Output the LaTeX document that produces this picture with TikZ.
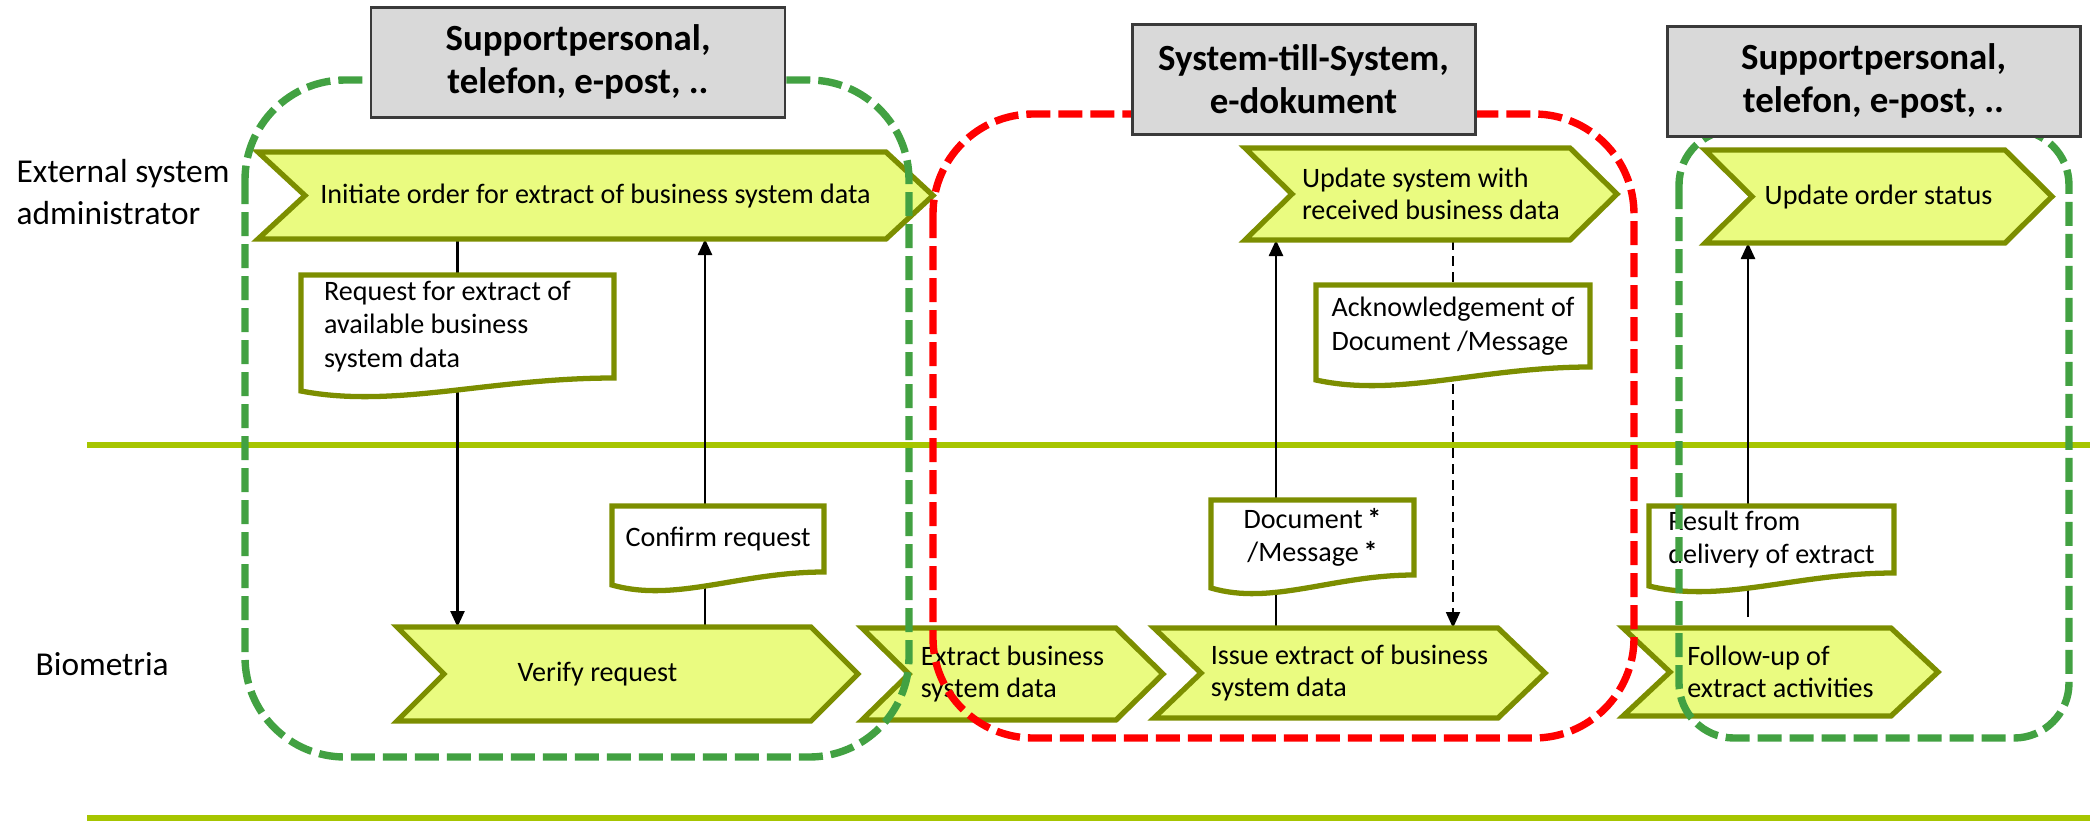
\documentclass[tikz,border=0pt]{standalone}
\usepackage{fontspec}
\setmainfont{Carlito}
\usetikzlibrary{arrows.meta, positioning, calc}
\definecolor{chevfill}{HTML}{EAFB80}
\definecolor{oliveedge}{HTML}{7C8E00}
\definecolor{zonegreen}{HTML}{42A142}
\definecolor{zonered}{HTML}{FF0000}
\definecolor{hdrfill}{HTML}{D9D9D9}
\definecolor{hdrline}{HTML}{3A3A3A}
\definecolor{lanegreen}{HTML}{A6C500}
\pgfdeclarelayer{bglayer}
\pgfdeclarelayer{shapelayer}
\pgfdeclarelayer{fglayer}
\pgfdeclarelayer{toplayer}
\pgfsetlayers{bglayer,shapelayer,main,fglayer,toplayer}
\tikzset{
  chev/.style={rectangle, draw=none, inner sep=0pt, outer sep=0pt, align=left,
               font=\fontsize{8}{9.2}\selectfont},
  docbox/.style={rectangle, draw=none, inner sep=0pt, outer sep=0pt, align=left,
                 font=\fontsize{8}{9.5}\selectfont},
  chevline/.style={draw=oliveedge, fill=chevfill, line width=1.5pt},
  docline/.style={draw=oliveedge, fill=white, line width=1.5pt},
  hdr/.style={rectangle, draw=hdrline, fill=hdrfill, line width=0.85pt, inner sep=0pt,
              align=center, font=\fontsize{10.5}{12.2}\selectfont\bfseries},
  lanelbl/.style={anchor=west, align=left, inner sep=0pt, font=\fontsize{9.5}{12}\selectfont},
  lane/.style={draw=lanegreen, line width=1.7pt},
  flow/.style={-{Triangle[length=1.6mm, width=1.4mm]}, line width=0.7pt},
  ackflow/.style={flow, line width=0.5pt, dash pattern=on 1mm off 0.6mm},
  zone/.style={draw=#1, line width=2.1pt, dash pattern=on 2.4mm off 0.8mm,
               rounded corners=10mm},
  zone/.default=zonegreen,
}
\newcommand\chevtip{4.7mm}
% chevron outline round a named node
\newcommand\chevshape[1]{%
  \filldraw[chevline] (#1.north west) -- ([xshift=-\chevtip]#1.north east) -- (#1.east)
    -- ([xshift=-\chevtip]#1.south east) -- (#1.south west) -- ([xshift=\chevtip]#1.west) -- cycle;}
% document outline (wavy bottom) round a named node
\newcommand\docshape[1]{%
  \filldraw[docline] ([yshift=-1.3mm]#1.south west) -- (#1.north west) -- (#1.north east)
    -- (#1.south east)
    .. controls ($(#1.south east)!0.4!(#1.south west)$)
       and ($(#1.south west)!0.3!(#1.south east)+(0,-3.1mm)$)
    .. ([yshift=-1.3mm]#1.south west) -- cycle;}

\begin{document}
\begin{tikzpicture}[x=0.1mm, y=-0.1mm]
  \useasboundingbox (0,0) rectangle (2090,821);

  % Lane labels
  \node[lanelbl] (ext) at (16,192) {External system\\administrator};
  \node[lanelbl] (bio) at (35,664) {Biometria};

  % Activities — external system administrator
  \node[chev, minimum width=67.5mm, minimum height=8.7mm] (init) at (595.5,195.5)
    {Initiate order for extract of business system data};
  \node[chev, minimum width=37.2mm, minimum height=9.2mm] (updsys) at (1431,194)
    {Update system with\\received business data};
  \node[chev, minimum width=34.7mm, minimum height=9.3mm] (updstat) at (1878.5,196.5)
    {Update order status};

  % Activities — Biometria
  \node[chev, minimum width=46.1mm, minimum height=9.4mm] (verify) at (627.5,674)
    {Verify request\hspace*{6mm}};
  \node[chev, minimum width=30.1mm, minimum height=9.2mm] (extract) at (1012.5,674)
    {Extract business\\system data};
  \node[chev, minimum width=39.1mm, minimum height=9mm] (issue) at (1349.5,673)
    {Issue extract of business\\system data};
  \node[chev, minimum width=31.5mm, minimum height=8.8mm] (follow) at (1780.5,672)
    {Follow-up of\\extract activities};

  % Messages
  \node[docbox, align=flush left, text width=26.7mm, minimum width=31.3mm, minimum height=10.3mm]
    (reqdoc) at (457.5,326.5) {Request for extract of\\available business\\system data};
  \node[docbox, minimum width=21.2mm, minimum height=6.6mm] (confdoc) at (718,539)
    {Confirm request};
  \node[docbox, minimum width=27.4mm, minimum height=8.2mm] (ackdoc) at (1453,326)
    {Acknowledgement of\\Document /Message};
  \node[docbox, align=center, minimum width=20.3mm, minimum height=7.5mm] (msgdoc) at (1312.5,537.5)
    {Document\,{\bfseries *}\\/Message\,{\bfseries *}};
  \node[docbox, minimum width=24.5mm, minimum height=6.7mm] (resdoc) at (1771.5,539.5)
    {Result from\\delivery of extract};

  \coordinate (confx) at (705,445);
  \coordinate (docx) at (1276,445);
  \coordinate (resx) at (1748,445);

  % Lanes and flows
  \begin{pgfonlayer}{bglayer}
    \draw[lane] (87,445) -- (2090,445);
    \draw[lane] (87,818) -- (2090,818);
    \draw[flow] (init.south -| reqdoc) -- (verify.north -| reqdoc);
    \draw[flow] (verify.north -| confx) -- (init.south -| confx);
    \draw[flow] (issue.north -| docx) -- (updsys.south -| docx);
    \draw[ackflow] (updsys.south -| ackdoc) -- (issue.north -| ackdoc);
    \draw[flow, shorten <=1.1mm] (follow.north -| resx) -- (updstat.south -| resx);
  \end{pgfonlayer}

  % Shapes
  \begin{pgfonlayer}{shapelayer}
    \foreach \n in {init,updsys,updstat,verify,extract,issue,follow} {\chevshape{\n}}
    \foreach \n in {reqdoc,confdoc,ackdoc,msgdoc,resdoc} {\docshape{\n}}
  \end{pgfonlayer}

  % Channel zones
  \begin{pgfonlayer}{fglayer}
    \draw[zone] (245,80) rectangle (909,757);
    \draw[zone=zonered] (933,114) rectangle (1634,738);
    \draw[zone, rounded corners=5.5mm] (1679,130) rectangle (2069,738);
  \end{pgfonlayer}

  % Channel headers
  \begin{pgfonlayer}{toplayer}
    \node[hdr, minimum width=41.4mm, minimum height=11mm] (sup1) at (578,62)
      {Supportpersonal,\\telefon, e-post, ..};
    \node[hdr, minimum width=34.3mm, minimum height=11mm] (sys) at (1303.5,79)
      {System-till-System,\\e-dokument};
    \node[hdr, minimum width=41.3mm, minimum height=11mm] (sup2) at (1873.5,81)
      {Supportpersonal,\\telefon, e-post, ..};
  \end{pgfonlayer}
\end{tikzpicture}
\end{document}
